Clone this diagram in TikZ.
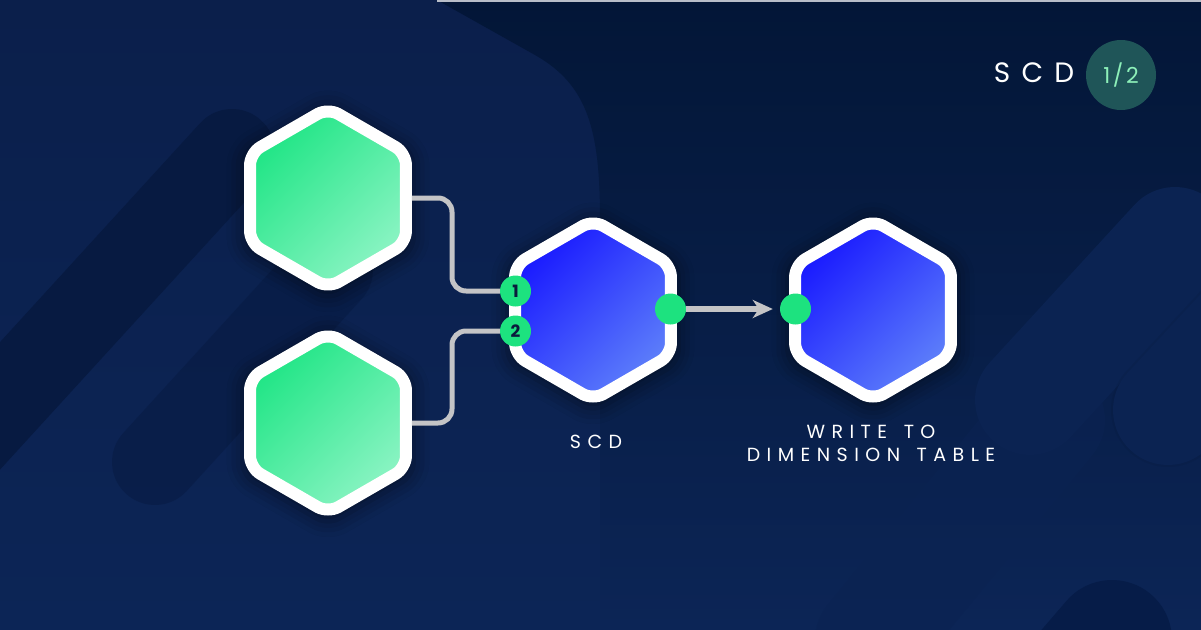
\documentclass[tikz,border=0pt]{standalone}
\usepackage{fontspec}
\setmainfont{Poppins}
\newfontfamily\spaced[LetterSpace=34]{Poppins}
\newfontfamily\spacedwide[LetterSpace=40]{Poppins}
\newfontfamily\spacedsmall[LetterSpace=12]{Poppins}
\usetikzlibrary{shapes.geometric,arrows.meta,shadows.blur,calc}
\definecolor{bgTopL}{HTML}{0B1F4B}
\definecolor{bgBot}{HTML}{0C2556}
\definecolor{bgTopR}{HTML}{031637}
\definecolor{darkband}{HTML}{071A41}
\definecolor{lightband}{HTML}{0B2352}
\definecolor{deepband}{HTML}{061C48}
\definecolor{edgeline}{HTML}{B8BDC8}
\definecolor{portg}{HTML}{1DE27F}
\definecolor{navytxt}{HTML}{0A1B3D}
\definecolor{lineg}{HTML}{C4C4C6}
\definecolor{gA}{HTML}{1FE585}
\definecolor{gB}{HTML}{8CF4C4}
\definecolor{bA}{HTML}{1818FF}
\definecolor{bB}{HTML}{5E80FA}
\definecolor{badge}{HTML}{1F5558}
\definecolor{badgetxt}{HTML}{8DF0B9}
\begin{document}
\begin{tikzpicture}[x=1pt,y=-1pt,
  hexnode/.style={regular polygon, regular polygon sides=6, shape border rotate=30,
    minimum size=180pt, inner sep=0pt, draw=white, line width=12pt, rounded corners=12pt,
    blur shadow={shadow xshift=0pt, shadow yshift=-3pt, shadow blur radius=14pt,
      shadow opacity=45, shadow scale=1.1}},
  greenfill/.style={top color=gA, bottom color=gB, shading angle=45},
  bluefill/.style={top color=bA, bottom color=bB, shading angle=45},
  port/.style={circle, fill=portg, minimum size=31pt, inner sep=0pt,
    font=\bfseries\fontsize{17}{17}\selectfont, text=navytxt},
  conn/.style={draw=lineg, line width=5pt, rounded corners=14pt},
  arrowline/.style={draw=lineg, line width=6pt,
    -{Stealth[length=20pt, width=18pt, inset=6pt]}, shorten >=7pt},
  lab/.style={text=white, font=\spaced\fontsize{19}{23}\selectfont, align=center, inner sep=0pt}
]
\useasboundingbox (0,0) rectangle (1201,629);
% background
\shade[top color=bgTopL, bottom color=bgBot] (0,0) rectangle (1201,629);
\begin{scope}
  \clip (0,0) rectangle (1201,629);
  \draw[line width=86pt, line cap=round, darkband] (232,152) -- (-150,570);
  \draw[line width=86pt, line cap=round, darkband, opacity=0.5] (155,462) -- (330,270);
  \shade[top color=bgTopR, bottom color=bgBot]
    (437,0) -- (535,55) .. controls (588,85) and (600,130) .. (600,220)
    -- (600,629) -- (1201,629) -- (1201,0) -- cycle;
  \draw[line width=110pt, line cap=round, lightband, opacity=0.6] (1050,420) -- (870,640);
  \draw[line width=110pt, line cap=round, lightband] (1030,400) -- (1175,242);
  \draw[line width=114pt, line cap=round, black, opacity=0.05] (1168,410) -- (1400,160);
  \draw[line width=110pt, line cap=round, lightband] (1168,410) -- (1400,160);
  \draw[line width=120pt, line cap=round, deepband] (1112,640) -- (1000,770);
\end{scope}
\draw[edgeline, line width=1.5pt] (437,0.75) -- (1201,0.75);

% hexagons
\node[hexnode, greenfill] (src1) at (328,198) {};
\node[hexnode, greenfill] (src2) at (328,423) {};
\node[hexnode, bluefill] (scd) at (593,310) {};
\node[hexnode, bluefill] (dim) at (873,310) {};

% ports
\node[port] (in1) at ($(scd.center)+(-77.5,-19)$) {1};
\node[port] (in2) at ($(scd.center)+(-77.5,21)$) {2};
\node[port] (out) at ($(scd.center)+(77.5,-1)$) {};
\node[port] (din) at ($(dim.center)+(-77.5,-1)$) {};

% connectors
\coordinate (k) at (452,0);
\draw[conn] (src1.east) -| (k |- in1.west) -- (in1.west);
\draw[conn] (src2.east) -| (k |- in2.west) -- (in2.west);
\draw[arrowline] (out.east) -- (din.west);

% labels
\node[lab] (lscd) at (596,442) {SCD};
\node[lab] (ldim) at (871,443.5) {WRITE \kern5pt TO\\DIMENSION \kern5pt TABLE};

% badge
\node[circle, fill=badge, minimum size=70pt, inner sep=0pt, text=badgetxt,
  font=\spacedsmall\fontsize{22}{22}\selectfont] (page) at (1121,75) {1/2};
\node[text=white, inner sep=0pt, font=\spacedwide\fontsize{28}{28}\selectfont] (title) at (1034,73) {SCD};
\end{tikzpicture}
\end{document}
